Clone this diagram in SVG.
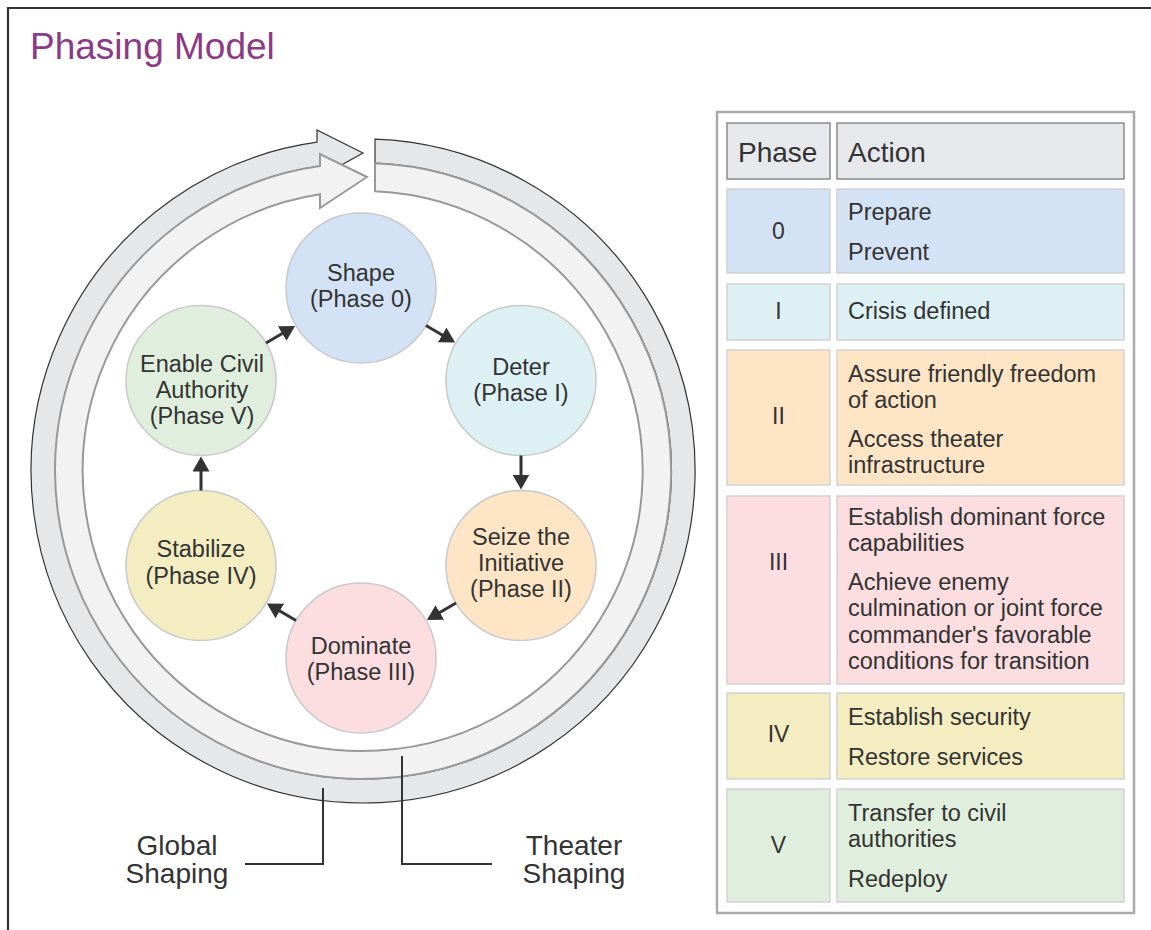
<svg xmlns="http://www.w3.org/2000/svg" width="1151" height="930" viewBox="0 0 1151 930">
<style>
text{font-family:"Liberation Sans",Arial,sans-serif;fill:#333}
.title{font-size:37px;fill:#8b3a87}
.node{stroke:#c9c9c9;stroke-width:1.5}
.nt{font-size:23.5px;text-anchor:middle}
.edge{stroke:#333;stroke-width:3;fill:none}
.lead{stroke:#333;stroke-width:2;fill:none}
.lbl{font-size:28px;text-anchor:middle}
.hdr{fill:#e7e8ec;stroke:#8a8a8a;stroke-width:1.5}
.cell{stroke:#d2d2d2;stroke-width:1.5}
.ht{font-size:28px}
.ct{font-size:23.5px}
.pn{font-size:23px;text-anchor:middle}
</style>
<defs>
<marker id="ah" markerUnits="userSpaceOnUse" markerWidth="16" markerHeight="17" refX="2" refY="8.5" orient="auto">
<path d="M0,0 L15,8.5 L0,17 Z" fill="#333"/>
</marker>
</defs>
<rect width="1151" height="930" fill="#fff"/>
<path d="M8,930 V8 H1151" fill="none" stroke="#333" stroke-width="2.2"/>
<text class="title" x="30" y="59">Phasing Model</text>

<g id="ring">
<path id="global-ring" d="M375,139.2 A332,332 0 1 1 317,142.2 L317,130 L363,153 L317,178.5 L317,166.5 A308,308 0 1 0 375,163.2 Z" fill="#e6e7e9" stroke="#333" stroke-width="1.2"/>
<path id="theater-ring" d="M375,163.2 A308,308 0 1 1 320,166 L320,154 L367,177 L320,208 L320,194.3 A280,280 0 1 0 375,191.3 Z" fill="#f2f2f3" stroke="#999" stroke-width="2"/>
</g>

<g id="n-shape">
<circle class="node" cx="361" cy="288" r="75" fill="#d3e2f4"/>
<text class="nt" x="361" y="281">Shape</text>
<text class="nt" x="361" y="307">(Phase 0)</text>
</g>
<g id="n-deter">
<circle class="node" cx="521" cy="380.5" r="75" fill="#ddf0f3"/>
<text class="nt" x="521" y="375">Deter</text>
<text class="nt" x="521" y="401">(Phase I)</text>
</g>
<g id="n-seize">
<circle class="node" cx="521" cy="565.5" r="75" fill="#fee5c5"/>
<text class="nt" x="521" y="545">Seize the</text>
<text class="nt" x="521" y="571">Initiative</text>
<text class="nt" x="521" y="597">(Phase II)</text>
</g>
<g id="n-dominate">
<circle class="node" cx="361" cy="658" r="75" fill="#fcdde0"/>
<text class="nt" x="361" y="654">Dominate</text>
<text class="nt" x="361" y="680">(Phase III)</text>
</g>
<g id="n-stabilize">
<circle class="node" cx="201" cy="565.5" r="75" fill="#f4edc1"/>
<text class="nt" x="201" y="557">Stabilize</text>
<text class="nt" x="201" y="584">(Phase IV)</text>
</g>
<g id="n-enable">
<circle class="node" cx="201" cy="380.5" r="75" fill="#e0efdd"/>
<text class="nt" x="202" y="372">Enable Civil</text>
<text class="nt" x="202" y="398">Authority</text>
<text class="nt" x="202" y="424">(Phase V)</text>
</g>

<g id="connectors">
<line class="edge" x1="426" y1="325.5" x2="443.9" y2="336" marker-end="url(#ah)"/>
<line class="edge" x1="521" y1="455.5" x2="521" y2="476.5" marker-end="url(#ah)"/>
<line class="edge" x1="456" y1="603" x2="438.1" y2="613.5" marker-end="url(#ah)"/>
<line class="edge" x1="296" y1="620.5" x2="278.1" y2="610" marker-end="url(#ah)"/>
<line class="edge" x1="201" y1="490.5" x2="201" y2="469.5" marker-end="url(#ah)"/>
<line class="edge" x1="266" y1="343" x2="283.9" y2="332.5" marker-end="url(#ah)"/>
<path class="lead" d="M245,864 H323 V788"/>
<path class="lead" d="M402,756 V864 H492"/>
</g>

<g id="label-global">
<text class="lbl" x="177" y="855">Global</text>
<text class="lbl" x="177" y="883">Shaping</text>
</g>
<g id="label-theater">
<text class="lbl" x="574" y="855">Theater</text>
<text class="lbl" x="574" y="883">Shaping</text>
</g>

<g id="table">
<rect x="717" y="112" width="417" height="801" fill="#fff" stroke="#aaa" stroke-width="2.5"/>
<g id="hdr">
<rect class="hdr" x="727" y="123" width="103" height="56"/>
<rect class="hdr" x="837" y="123" width="287" height="56"/>
<text class="ht" x="738" y="162">Phase</text>
<text class="ht" x="848" y="162">Action</text>
</g>
<g id="row-0">
<rect class="cell" x="727" y="189" width="103" height="84" fill="#d3e2f4"/>
<rect class="cell" x="837" y="189" width="287" height="84" fill="#d3e2f4"/>
<text class="pn" x="778.5" y="239">0</text>
<text class="ct" x="848" y="220">Prepare</text>
<text class="ct" x="848" y="260">Prevent</text>
</g>
<g id="row-1">
<rect class="cell" x="727" y="284" width="103" height="56" fill="#ddf0f3"/>
<rect class="cell" x="837" y="284" width="287" height="56" fill="#ddf0f3"/>
<text class="pn" x="778.5" y="319">I</text>
<text class="ct" x="848" y="319">Crisis defined</text>
</g>
<g id="row-2">
<rect class="cell" x="727" y="350" width="103" height="135" fill="#fee5c5"/>
<rect class="cell" x="837" y="350" width="287" height="135" fill="#fee5c5"/>
<text class="pn" x="778.5" y="424">II</text>
<text class="ct" x="848" y="382">Assure friendly freedom</text>
<text class="ct" x="848" y="408">of action</text>
<text class="ct" x="848" y="447">Access theater</text>
<text class="ct" x="848" y="473">infrastructure</text>
</g>
<g id="row-3">
<rect class="cell" x="727" y="496" width="103" height="188" fill="#fcdde0"/>
<rect class="cell" x="837" y="496" width="287" height="188" fill="#fcdde0"/>
<text class="pn" x="778.5" y="570">III</text>
<text class="ct" x="848" y="525">Establish dominant force</text>
<text class="ct" x="848" y="551">capabilities</text>
<text class="ct" x="848" y="590">Achieve enemy</text>
<text class="ct" x="848" y="616">culmination or joint force</text>
<text class="ct" x="848" y="643">commander's favorable</text>
<text class="ct" x="848" y="669">conditions for transition</text>
</g>
<g id="row-4">
<rect class="cell" x="727" y="693" width="103" height="86" fill="#f4edc1"/>
<rect class="cell" x="837" y="693" width="287" height="86" fill="#f4edc1"/>
<text class="pn" x="778.5" y="742">IV</text>
<text class="ct" x="848" y="725">Establish security</text>
<text class="ct" x="848" y="765">Restore services</text>
</g>
<g id="row-5">
<rect class="cell" x="727" y="789" width="103" height="113" fill="#e0efdd"/>
<rect class="cell" x="837" y="789" width="287" height="113" fill="#e0efdd"/>
<text class="pn" x="778.5" y="853">V</text>
<text class="ct" x="848" y="821">Transfer to civil</text>
<text class="ct" x="848" y="847">authorities</text>
<text class="ct" x="848" y="887">Redeploy</text>
</g>
</g>
</svg>
